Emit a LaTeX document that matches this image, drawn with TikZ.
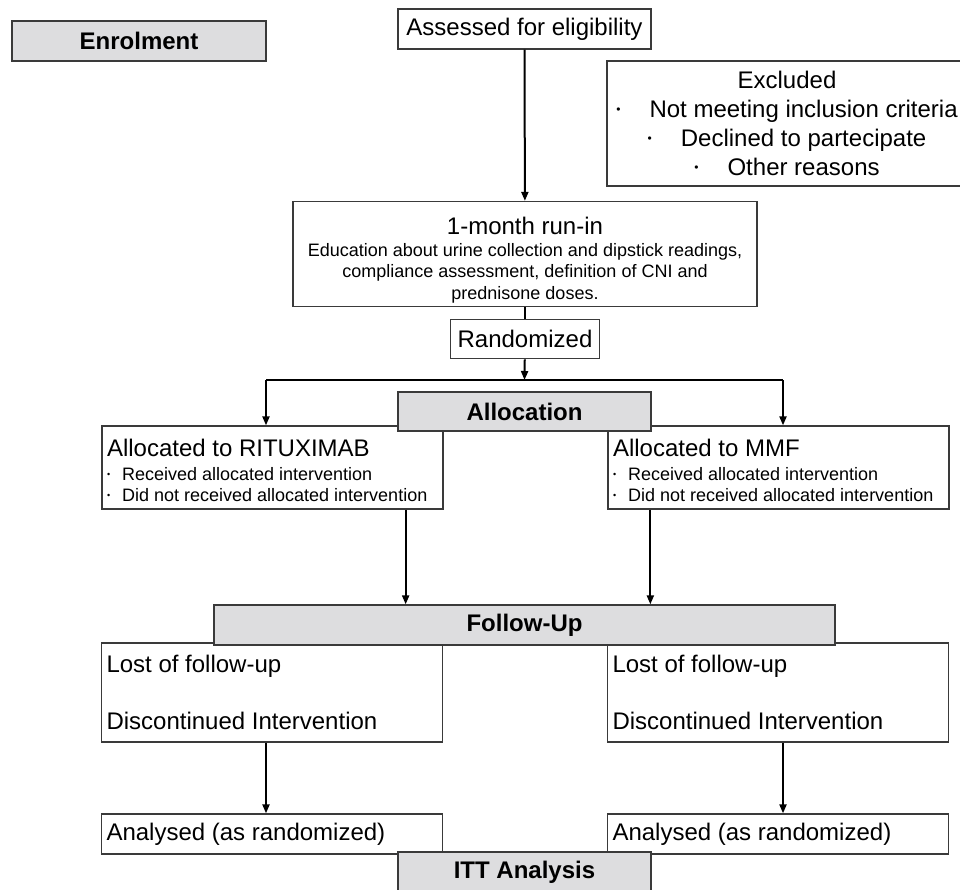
\documentclass[tikz,border=0pt]{standalone}
\usepackage{fontspec}
\setmainfont{Liberation Sans}
\usetikzlibrary{positioning,arrows.meta}
\definecolor{phasegray}{HTML}{DDDDDF}
\definecolor{boxline}{HTML}{3A3A3A}
\newcommand{\blt}{\raisebox{0.18em}{\scalebox{0.5}{\textbullet}}}

\begin{document}
\begin{tikzpicture}[x=1pt, y=-1pt, >={Triangle[length=9pt,width=7pt]},
every node/.style={draw=boxline, line width=1.3pt, rectangle, inner sep=0pt, font=\fontsize{24}{28}\selectfont},
phase/.style={fill=phasegray, font=\fontsize{24}{28}\selectfont\bfseries, minimum height=40pt},
armbox/.style={minimum width=341pt, text width=331pt, inner xsep=5pt, align=flush left},
conn/.style={line width=2pt}]
\useasboundingbox (0,0) rectangle (960,890);
\node (enrol) [phase, minimum width=254pt] at (139,41) {Enrolment};
\node (assess) [minimum width=253pt, minimum height=40pt] at (524.5,29) {Assessed for eligibility};
\node (excl) [minimum width=360pt, minimum height=125pt, align=center, font=\fontsize{24}{29}\selectfont] at (787,123.5) {Excluded\\ \blt\hspace{29pt}Not meeting inclusion criteria\\ \blt\hspace{29pt}Declined to partecipate\\ \blt\hspace{29pt}Other reasons};
\node (runin) [minimum width=464pt, minimum height=105pt, text width=456pt, align=flush center] at (525,254) {\rule{0pt}{29pt}1-month run-in\\[0.5pt] \fontsize{18}{21.5}\selectfont Education about urine collection and dipstick readings,\\ compliance assessment, definition of CNI and\\ prednisone doses.\par};
\node (rand) [below=12pt of runin, minimum width=149pt, minimum height=39pt] {Randomized};
\coordinate (split) at (524.5,380);
\coordinate (brL) at (266,380);
\coordinate (brR) at (783,380);
\node (rtx) [armbox, minimum height=83pt] at (272.5,467.5) {\rule{0pt}{23.5pt}Allocated to RITUXIMAB\\[3pt] \fontsize{18}{21}\selectfont \blt\hspace{12pt}Received allocated intervention\\ \blt\hspace{12pt}Did not received allocated intervention\par};
\node (mmf) [armbox, minimum height=83pt] at (778.5,467.5) {\rule{0pt}{23.5pt}Allocated to MMF\\[3pt] \fontsize{18}{21}\selectfont \blt\hspace{12pt}Received allocated intervention\\ \blt\hspace{12pt}Did not received allocated intervention\par};
\node (alloc) [phase, minimum width=253pt, minimum height=39pt] at (524.5,411.5) {Allocation};
\node (lostL) [armbox, minimum height=99pt] at (272,692.5) {Lost of follow-up\\[29pt]Discontinued Intervention};
\node (lostR) [armbox, minimum height=99pt] at (778,692.5) {Lost of follow-up\\[29pt]Discontinued Intervention};
\node (fup) [phase, minimum width=621pt] at (524.5,625) {Follow-Up};
\node (anaL) [armbox, minimum height=40pt] at (272,834) {Analysed (as randomized)};
\node (anaR) [armbox, minimum height=40pt] at (778,834) {Analysed (as randomized)};
\node (itt) [phase, minimum width=253pt] at (524.5,872) {ITT Analysis};
\draw[conn,->] (assess) -- (runin);
\draw[conn] (runin) -- (rand);
\draw[conn,->] (rand) -- (split);
\draw[conn] (brL) -- (brR);
\draw[conn,->] (brL) -- (brL |- rtx.north);
\draw[conn,->] (brR) -- (brR |- mmf.north);
\draw[conn,->] ([xshift=-38pt]rtx.south east) -- ([xshift=-38pt]rtx.south east |- fup.north);
\draw[conn,->] ([xshift=43pt]mmf.south west) -- ([xshift=43pt]mmf.south west |- fup.north);
\draw[conn,->] ([xshift=-6pt]lostL.south) -- ([xshift=-6pt]anaL.north);
\draw[conn,->] ([xshift=5pt]lostR.south) -- ([xshift=5pt]anaR.north);
\end{tikzpicture}
\end{document}
